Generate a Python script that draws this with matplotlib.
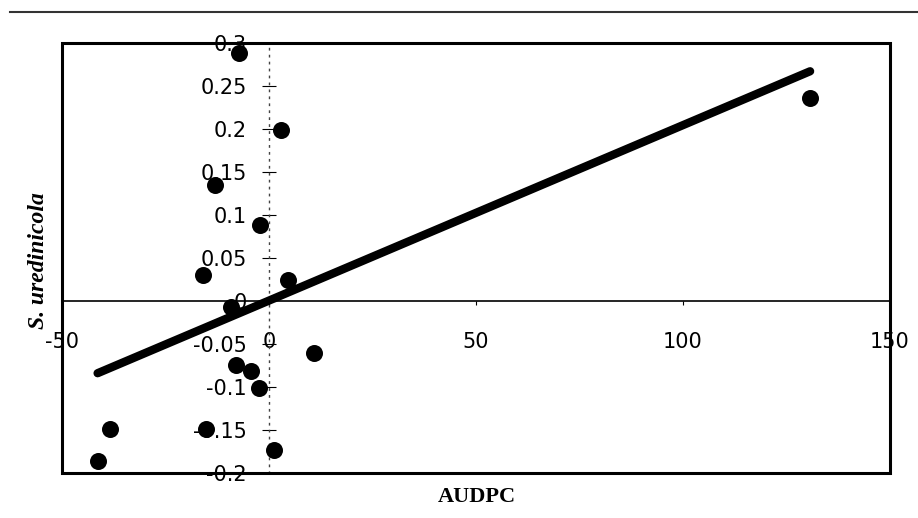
import matplotlib
matplotlib.use("Agg")
import numpy as np
import matplotlib.pyplot as plt
from matplotlib.lines import Line2D
from matplotlib.patches import Rectangle


# AUDPC vs S. uredinicola
audpc = [-7.3, 2.9, -13.1, -2.2, -16.0, 4.6, -9.2, 10.9,
         -8.0, -4.4, -2.4, -38.5, -15.2, 1.2, -41.4, 130.7]
uredinicola = [0.288, 0.199, 0.135, 0.088, 0.030, 0.024, -0.007, -0.060,
               -0.074, -0.081, -0.101, -0.149, -0.149, -0.173, -0.186, 0.236]

# fitted line as drawn in the figure
fit_slope = 0.00204
fit_intercept = 0.0005

x_ticks = [-50, 0, 50, 100, 150]
x_ticklabels = ["-50", "0", "50", "100", "150"]
y_ticks = [-0.2, -0.15, -0.1, -0.05, 0, 0.05, 0.1, 0.15, 0.2, 0.25, 0.3]
y_ticklabels = ["-0.2", "-0.15", "-0.1", "-0.05", "0", "0.05",
                "0.1", "0.15", "0.2", "0.25", "0.3"]


def main():
    W, H = 918, 518
    fig = plt.figure(figsize=(W / 100, H / 100), dpi=100)
    ax = fig.add_axes([62 / W, 1 - 473 / H, (890 - 62) / W, (473 - 43) / H])

    x = np.array(audpc)
    fit_x = np.array([x.min(), x.max()])
    ax.plot(fit_x, fit_intercept + fit_slope * fit_x, color="black",
            linewidth=6, solid_capstyle="round", zorder=3)
    ax.scatter(audpc, uredinicola, s=150, color="black", zorder=4,
               linewidths=0)

    ax.set_xlim(-50, 150)
    ax.set_ylim(-0.2, 0.3)

    # axes crossing at zero, box drawn separately
    ax.spines["left"].set_position(("data", 0))
    ax.spines["bottom"].set_position(("data", 0))
    ax.spines["left"].set_linestyle((0, (1, 4)))
    ax.spines["left"].set_linewidth(1.0)
    ax.spines["left"].set_color("#444444")
    ax.spines["bottom"].set_linewidth(1.2)
    ax.spines["top"].set_visible(False)
    ax.spines["right"].set_visible(False)
    ax.add_patch(Rectangle((0, 0), 1, 1, transform=ax.transAxes, fill=False,
                           edgecolor="black", linewidth=2.2, clip_on=False,
                           zorder=5))

    ax.set_xticks(x_ticks)
    ax.set_xticklabels(x_ticklabels, fontsize=15, family="DejaVu Sans")
    ax.set_yticks(y_ticks)
    ax.set_yticklabels(y_ticklabels, fontsize=15, family="DejaVu Sans")
    ax.tick_params(axis="x", direction="out", length=3, width=0.8, pad=19)
    ax.tick_params(axis="y", direction="inout", length=10, width=0.8, pad=11)

    fig.text(477 / W, 1 - 497 / H, "AUDPC", ha="center", va="center",
             fontsize=16, fontweight="bold", family="Liberation Serif")
    fig.text(38 / W, 1 - 261 / H, "S. uredinicola", ha="center", va="center",
             rotation=90, fontsize=17, fontweight="bold", fontstyle="italic",
             family="Liberation Serif")

    # rule across the top of the page
    fig.add_artist(Line2D([10 / W, 1.0], [1 - 12 / H, 1 - 12 / H],
                          transform=fig.transFigure, color="#333333",
                          linewidth=1.5))

    fig.savefig("out.png", dpi=100)
    plt.close(fig)


if __name__ == "__main__":
    main()
